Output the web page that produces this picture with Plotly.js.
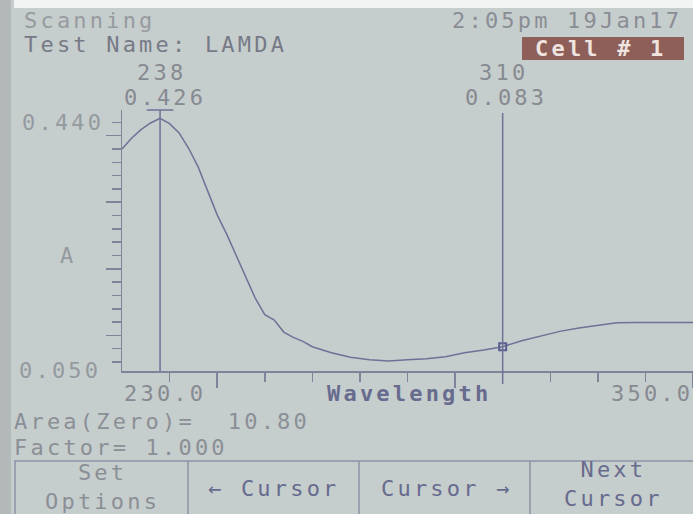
<!DOCTYPE html>
<html>
<head>
<meta charset="utf-8">
<script src="https://cdn.plot.ly/plotly-3.0.1.min.js"></script>
<style>
html,body{margin:0;padding:0;background:#c6cdcd;}
#chart{width:693px;height:514px;}
.annotation-text{letter-spacing:3.2px;}
</style>
</head>
<body>
<div id="chart"></div>
<script>
const wavelength = [230,232,234,236,238,240,242,244,246,248,250,252,254,256,258,260,262,264,266,268,270,274,278,282,286,290,294,298,302,306,310,314,318,322,326,330,334,338,342,346,350];
const absorbance = [0.380,0.396,0.409,0.419,0.426,0.418,0.404,0.381,0.353,0.316,0.281,0.252,0.220,0.186,0.156,0.131,0.123,0.105,0.097,0.091,0.083,0.074,0.067,0.0635,0.0615,0.0635,0.065,0.068,0.074,0.078,0.083,0.092,0.099,0.106,0.111,0.1155,0.119,0.1193,0.1193,0.1193,0.1193];
const cursorWave = [238, 310];
const cursorAbs = [0.426, 0.083];
const cursorWaveText = ["238", "310"];
const cursorAbsText = ["0.426", "0.083"];
const yEndLabels = ["0.440", "0.050"];
const xEndLabels = ["230.0", "350.0"];
const xMajorTicks = [250, 300, 350];
const xMinorTicks = [240, 260, 270, 280, 290, 310, 320, 330, 340];
const yMajorTicks = [0.1, 0.2, 0.3, 0.4];
const yMinorTicks = [0.06, 0.08, 0.12, 0.14, 0.16, 0.18, 0.22, 0.24, 0.26, 0.28, 0.32, 0.34, 0.36, 0.38, 0.42];
const headerTexts = ["Scanning", "Test Name: LAMDA", "2:05pm 19Jan17", "Cell # 1"];
const infoTexts = ["Area(Zero)=  10.80", "Factor= 1.000"];
const buttonTexts = ["Set<br>Options", "\u2190 Cursor", "Cursor \u2192", "Next<br>Cursor"];
const axisTitles = ["A", "Wavelength"];

// ---- layout helpers (pixel -> paper) ----
const L = 122, R = 693, T = 110, B = 371;
const W = R - L, H = B - T;
const px = x => (x - L) / W;
const py = y => (B - y) / H;

const FONT = "DejaVu Sans Mono, monospace";
const txtGray = "#868a91";
const txtDark = "#767a86";
const txtBlue = "#676b8d";
const lineCol = "#6e7296";
const axisCol = "#80849a";

function ann(text, x, y, anchor, color, size, extra) {
  return Object.assign({
    text: text, xref: "paper", yref: "paper", x: px(x), y: py(y),
    xanchor: anchor, yanchor: "middle", showarrow: false,
    font: {family: FONT, size: size || 22, color: color || txtGray}
  }, extra || {});
}

const annotations = [
  ann(headerTexts[0], 22, 20, "left", "#979ba0"),
  ann(headerTexts[1], 22, 45, "left", txtDark),
  ann(headerTexts[2], 684, 20, "right", "#8a8d94"),
  ann("<b>" + headerTexts[3] + "</b>", 601, 48, "center", "#efe4e0"),
  ann(cursorWaveText[0], 161, 72, "center", txtGray),
  ann(cursorAbsText[0], 165, 97, "center", txtGray),
  ann(cursorWaveText[1], 503, 72, "center", txtGray),
  ann(cursorAbsText[1], 506, 97, "center", txtGray),
  ann(yEndLabels[0], 106, 122, "right", "#959a9f"),
  ann(yEndLabels[1], 103, 370, "right", "#959a9f"),
  ann(axisTitles[0], 68, 255, "center", "#959a9f"),
  ann(xEndLabels[0], 165, 393, "center", txtGray),
  ann("<b>" + axisTitles[1] + "</b>", 409, 393, "center", txtBlue),
  ann(xEndLabels[1], 695, 393, "right", txtGray),
  ann(infoTexts[0], 12, 421, "left", "#8b8f96"),
  ann(infoTexts[1], 12, 447, "left", "#8b8f96"),
  ann(buttonTexts[0], 102, 487, "center", "#8b8f96"),
  ann(buttonTexts[1], 274, 488, "center", txtBlue),
  ann(buttonTexts[2], 447, 488, "center", txtBlue),
  ann(buttonTexts[3], 613, 484, "center", txtBlue)
];

const shapes = [
  // white strip at top of photo
  {type: "rect", xref: "paper", yref: "paper", x0: px(14), x1: px(700), y0: py(-5), y1: py(8), fillcolor: "#f2f3f3", line: {width: 0}, layer: "below"},
  // darker left edge
  {type: "rect", xref: "paper", yref: "paper", x0: px(-5), x1: px(11), y0: py(520), y1: py(-5), fillcolor: "#b3b8b8", line: {width: 0}, layer: "below"},
  // Cell # box
  {type: "rect", xref: "paper", yref: "paper", x0: px(522), x1: px(684), y0: py(60), y1: py(37), fillcolor: "#8e5f58", line: {width: 0}, layer: "below"},
  // cursor lines
  {type: "line", xref: "x", yref: "paper", x0: cursorWave[0], x1: cursorWave[0], y0: 0, y1: 1, line: {color: lineCol, width: 1.5}},
  {type: "line", xref: "x", yref: "paper", x0: cursorWave[0] - 2.8, x1: cursorWave[0] + 2.8, y0: 1, y1: 1, line: {color: lineCol, width: 1.5}},
  {type: "line", xref: "x", yref: "paper", x0: cursorWave[1], x1: cursorWave[1], y0: py(384), y1: py(113), line: {color: lineCol, width: 1.5}},
  // button bar
  {type: "line", xref: "paper", yref: "paper", x0: px(14), x1: px(700), y0: py(461), y1: py(461), line: {color: "#8e92a4", width: 1.5}},
  {type: "line", xref: "paper", yref: "paper", x0: px(15), x1: px(15), y0: py(461), y1: py(520), line: {color: "#8e92a4", width: 1.5}},
  {type: "line", xref: "paper", yref: "paper", x0: px(188), x1: px(188), y0: py(461), y1: py(520), line: {color: "#8e92a4", width: 1.5}},
  {type: "line", xref: "paper", yref: "paper", x0: px(359), x1: px(359), y0: py(461), y1: py(520), line: {color: "#8e92a4", width: 1.5}},
  {type: "line", xref: "paper", yref: "paper", x0: px(530), x1: px(530), y0: py(461), y1: py(520), line: {color: "#8e92a4", width: 1.5}}
];

const traces = [
  {x: wavelength, y: absorbance, type: "scatter", mode: "lines", line: {color: lineCol, width: 1.5, shape: "linear"}, hoverinfo: "skip"},
  {x: [cursorWave[1]], y: [cursorAbs[1]], type: "scatter", mode: "markers", marker: {symbol: "square-open", size: 7, color: "#5a5e90", line: {width: 2, color: "#5a5e90"}}, hoverinfo: "skip"}
];

const layout = {
  width: 693, height: 514,
  margin: {l: L, r: 693 - R, t: T, b: 514 - B, pad: 0},
  paper_bgcolor: "#c6cdcd", plot_bgcolor: "rgba(0,0,0,0)",
  showlegend: false,
  xaxis: {
    range: [230, 350], showgrid: false, zeroline: false,
    showline: true, linecolor: axisCol, linewidth: 1.5,
    tickmode: "array", tickvals: xMajorTicks, ticks: "outside", ticklen: 15, tickwidth: 1.5, tickcolor: axisCol,
    showticklabels: false,
    minor: {tickmode: "array", tickvals: xMinorTicks, ticks: "outside", ticklen: 9, tickwidth: 1.5, tickcolor: axisCol, showgrid: false}
  },
  yaxis: {
    range: [0.0465, 0.4385], showgrid: false, zeroline: false,
    showline: true, linecolor: axisCol, linewidth: 1.5,
    tickmode: "array", tickvals: yMajorTicks, ticks: "outside", ticklen: 15, tickwidth: 1.5, tickcolor: axisCol,
    showticklabels: false,
    minor: {tickmode: "array", tickvals: yMinorTicks, ticks: "outside", ticklen: 9, tickwidth: 1.5, tickcolor: axisCol, showgrid: false}
  },
  annotations: annotations,
  shapes: shapes
};

Plotly.newPlot("chart", traces, layout, {displayModeBar: false, staticPlot: true});
</script>
</body>
</html>
